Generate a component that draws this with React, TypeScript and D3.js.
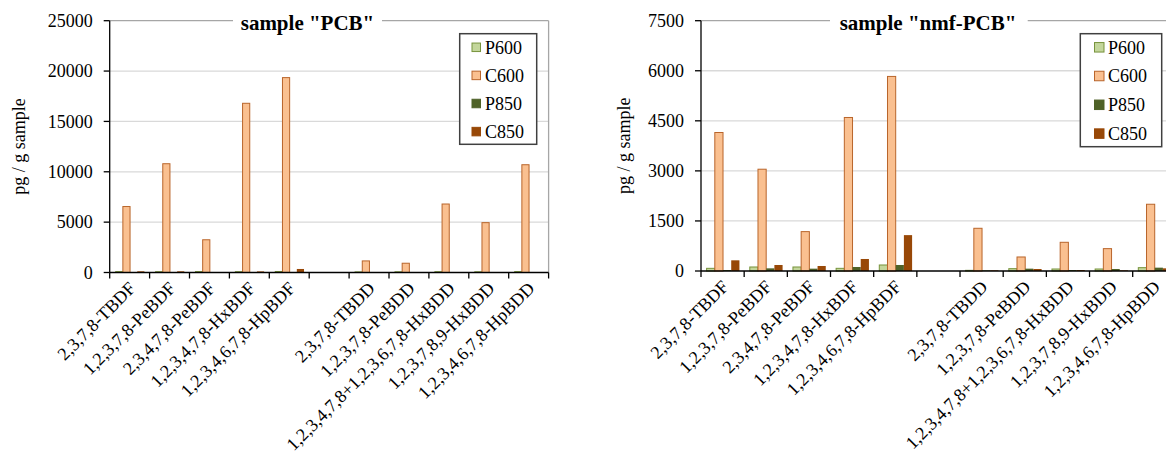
import React from "react";
import * as d3 from "d3";

// categories (blank slot between furans and dioxins)
const categories = [
  "2,3,7,8-TBDF",
  "1,2,3,7,8-PeBDF",
  "2,3,4,7,8-PeBDF",
  "1,2,3,4,7,8-HxBDF",
  "1,2,3,4,6,7,8-HpBDF",
  "",
  "2,3,7,8-TBDD",
  "1,2,3,7,8-PeBDD",
  "1,2,3,4,7,8+1,2,3,6,7,8-HxBDD",
  "1,2,3,7,8,9-HxBDD",
  "1,2,3,4,6,7,8-HpBDD",
];
const seriesNames = ["P600", "C600", "P850", "C850"];

// sample "PCB"
const pcbP600 = [90, 80, 90, 80, 100, 0, 60, 70, 80, 70, 90];
const pcbC600 = [6550, 10800, 3250, 16800, 19350, 0, 1150, 920, 6800, 4950, 10700];
const pcbP850 = [20, 20, 20, 20, 30, 0, 10, 10, 10, 10, 10];
const pcbC850 = [120, 120, 0, 110, 350, 0, 0, 0, 0, 0, 0];
const pcbTicks = [0, 5000, 10000, 15000, 20000, 25000];

// sample "nmf-PCB"
const nmfP600 = [80, 120, 120, 80, 180, 0, 20, 70, 60, 60, 100];
const nmfC600 = [4150, 3050, 1180, 4600, 5830, 0, 1280, 420, 860, 670, 2000];
const nmfP850 = [30, 80, 70, 120, 180, 0, 20, 70, 30, 60, 100];
const nmfC850 = [320, 180, 150, 360, 1075, 0, 20, 60, 30, 20, 80];
const nmfTicks = [0, 1500, 3000, 4500, 6000, 7500];

const FILL = ["#c3d69b", "#fac090", "#4f6228", "#984807"];
const STROKE = ["#77933c", "#b9652b", "none", "none"];
const SERIF = "Liberation Serif";

type PanelProps = {
  title: string;
  series: number[][];
  ticks: number[];
  x0: number;
  bandW: number;
  yTop: number;
  yBottom: number;
  groupOff: number;
  groupW: number;
  titleX: number;
  titleGap: [number, number];
  yTitleX: number;
  legend: { x: number; y: number; w: number; h: number; sq: number; rowY: number[]; sqX: number; textX: number };
};

const Panel = (p: PanelProps) => {
  const x1 = p.x0 + p.bandW * categories.length;
  const xScale = d3
    .scaleBand()
    .domain(categories.map((_, i) => String(i)))
    .range([p.x0, x1])
    .padding(0);
  const bw = xScale.bandwidth();
  const inner = d3
    .scaleBand()
    .domain(seriesNames)
    .range([bw * p.groupOff, bw * (p.groupOff + p.groupW)])
    .padding(0);
  const yScale = d3
    .scaleLinear()
    .domain([0, p.ticks[p.ticks.length - 1]])
    .range([p.yBottom, p.yTop]);

  return (
    <g>
      {/* gridlines */}
      {p.ticks.slice(1, -1).map((t) => (
        <line key={t} x1={p.x0} x2={x1} y1={yScale(t)} y2={yScale(t)} stroke="#d9d9d9" strokeWidth={1.3} />
      ))}
      {/* plot border top / right */}
      <line x1={p.x0} x2={x1} y1={p.yTop} y2={p.yTop} stroke="#a6a6a6" strokeWidth={1.3} />
      <line x1={x1} x2={x1} y1={p.yTop} y2={p.yBottom} stroke="#a6a6a6" strokeWidth={1.3} />

      {/* bars */}
      {categories.map((c, i) =>
        p.series.map((s, k) => {
          const v = s[i];
          if (!v) return null;
          const bx = (xScale(String(i)) as number) + (inner(seriesNames[k]) as number);
          return (
            <rect
              key={`${i}-${k}`}
              x={bx}
              y={yScale(v)}
              width={inner.bandwidth()}
              height={p.yBottom - yScale(v)}
              fill={FILL[k]}
              stroke={STROKE[k]}
              strokeWidth={1}
            />
          );
        })
      )}

      {/* y axis */}
      <line x1={p.x0} x2={p.x0} y1={p.yTop} y2={p.yBottom} stroke="#000" strokeWidth={1.3} />
      {p.ticks.map((t) => (
        <g key={t}>
          <line x1={p.x0 - 6} x2={p.x0} y1={yScale(t)} y2={yScale(t)} stroke="#000" strokeWidth={1.3} />
          <text fontFamily={SERIF} x={p.x0 - 17} y={yScale(t)} dy="0.35em" textAnchor="end" fontSize={18} fill="#000">
            {t}
          </text>
        </g>
      ))}
      <text
        fontFamily={SERIF}
        transform={`translate(${p.yTitleX},${(p.yTop + p.yBottom) / 2}) rotate(-90)`}
        textAnchor="middle"
        fontSize={18}
        fill="#000"
      >
        pg / g sample
      </text>

      {/* x axis */}
      <line x1={p.x0} x2={x1} y1={p.yBottom} y2={p.yBottom} stroke="#000" strokeWidth={1.3} />
      {categories.map((c, i) => (
        <line
          key={i}
          x1={xScale(String(i)) as number}
          x2={xScale(String(i)) as number}
          y1={p.yBottom}
          y2={p.yBottom + 6}
          stroke="#000"
          strokeWidth={1.3}
        />
      ))}
      <line x1={x1} x2={x1} y1={p.yBottom} y2={p.yBottom + 6} stroke="#000" strokeWidth={1.3} />
      {categories.map((c, i) => {
        const cx = (xScale(String(i)) as number) + bw / 2;
        return (
          <text
            key={i}
            fontFamily={SERIF}
            transform={`translate(${cx + 7},${p.yBottom + 17}) rotate(-45)`}
            textAnchor="end"
            fontSize={18}
            fill="#000"
          >
            {c}
          </text>
        );
      })}

      {/* title */}
      <rect x={p.titleGap[0]} y={p.yTop - 3} width={p.titleGap[1] - p.titleGap[0]} height={6} fill="#fff" />
      <text fontFamily={SERIF} x={p.titleX} y={30} textAnchor="middle" fontSize={21} fontWeight="bold" fill="#000">
        {p.title}
      </text>

      {/* legend */}
      <rect x={p.legend.x} y={p.legend.y} width={p.legend.w} height={p.legend.h} fill="#fff" stroke="#404040" strokeWidth={1.5} />
      {seriesNames.map((n, k) => (
        <g key={n}>
          <rect
            x={p.legend.sqX}
            y={p.legend.rowY[k] - p.legend.sq / 2}
            width={p.legend.sq}
            height={p.legend.sq}
            fill={FILL[k]}
            stroke={STROKE[k] === "none" ? FILL[k] : STROKE[k]}
            strokeWidth={1}
          />
          <text fontFamily={SERIF} x={p.legend.textX} y={p.legend.rowY[k]} dy="0.35em" fontSize={18} fill="#000">
            {n}
          </text>
        </g>
      ))}
    </g>
  );
};

export default function App() {
  return (
    <svg width={1166} height={466} style={{ position: "absolute", left: 0, top: 0, fontFamily: SERIF }}>
      <rect width={1166} height={466} fill="#fff" />
      <Panel
        title={'sample "PCB"'}
        series={[pcbP600, pcbC600, pcbP850, pcbC850]}
        ticks={pcbTicks}
        x0={109.7}
        bandW={39.9}
        yTop={20.7}
        yBottom={272.5}
        groupOff={0.15}
        groupW={0.72}
        titleX={307.5}
        titleGap={[233, 382]}
        yTitleX={25}
        legend={{ x: 459.7, y: 33.7, w: 77, h: 110.6, sq: 8.5, rowY: [47.3, 75.4, 103.5, 131.6], sqX: 472, textX: 485 }}
      />
      <Panel
        title={'sample "nmf-PCB"'}
        series={[nmfP600, nmfC600, nmfP850, nmfC850]}
        ticks={nmfTicks}
        x0={701}
        bandW={43.17}
        yTop={20.7}
        yBottom={271}
        groupOff={0.13}
        groupW={0.76}
        titleX={928}
        titleGap={[830, 1027.7]}
        yTitleX={630}
        legend={{ x: 1080.3, y: 33.7, w: 81.4, h: 113, sq: 9.5, rowY: [47.3, 76, 104.8, 133.6], sqX: 1094.5, textX: 1108 }}
      />
    </svg>
  );
}
